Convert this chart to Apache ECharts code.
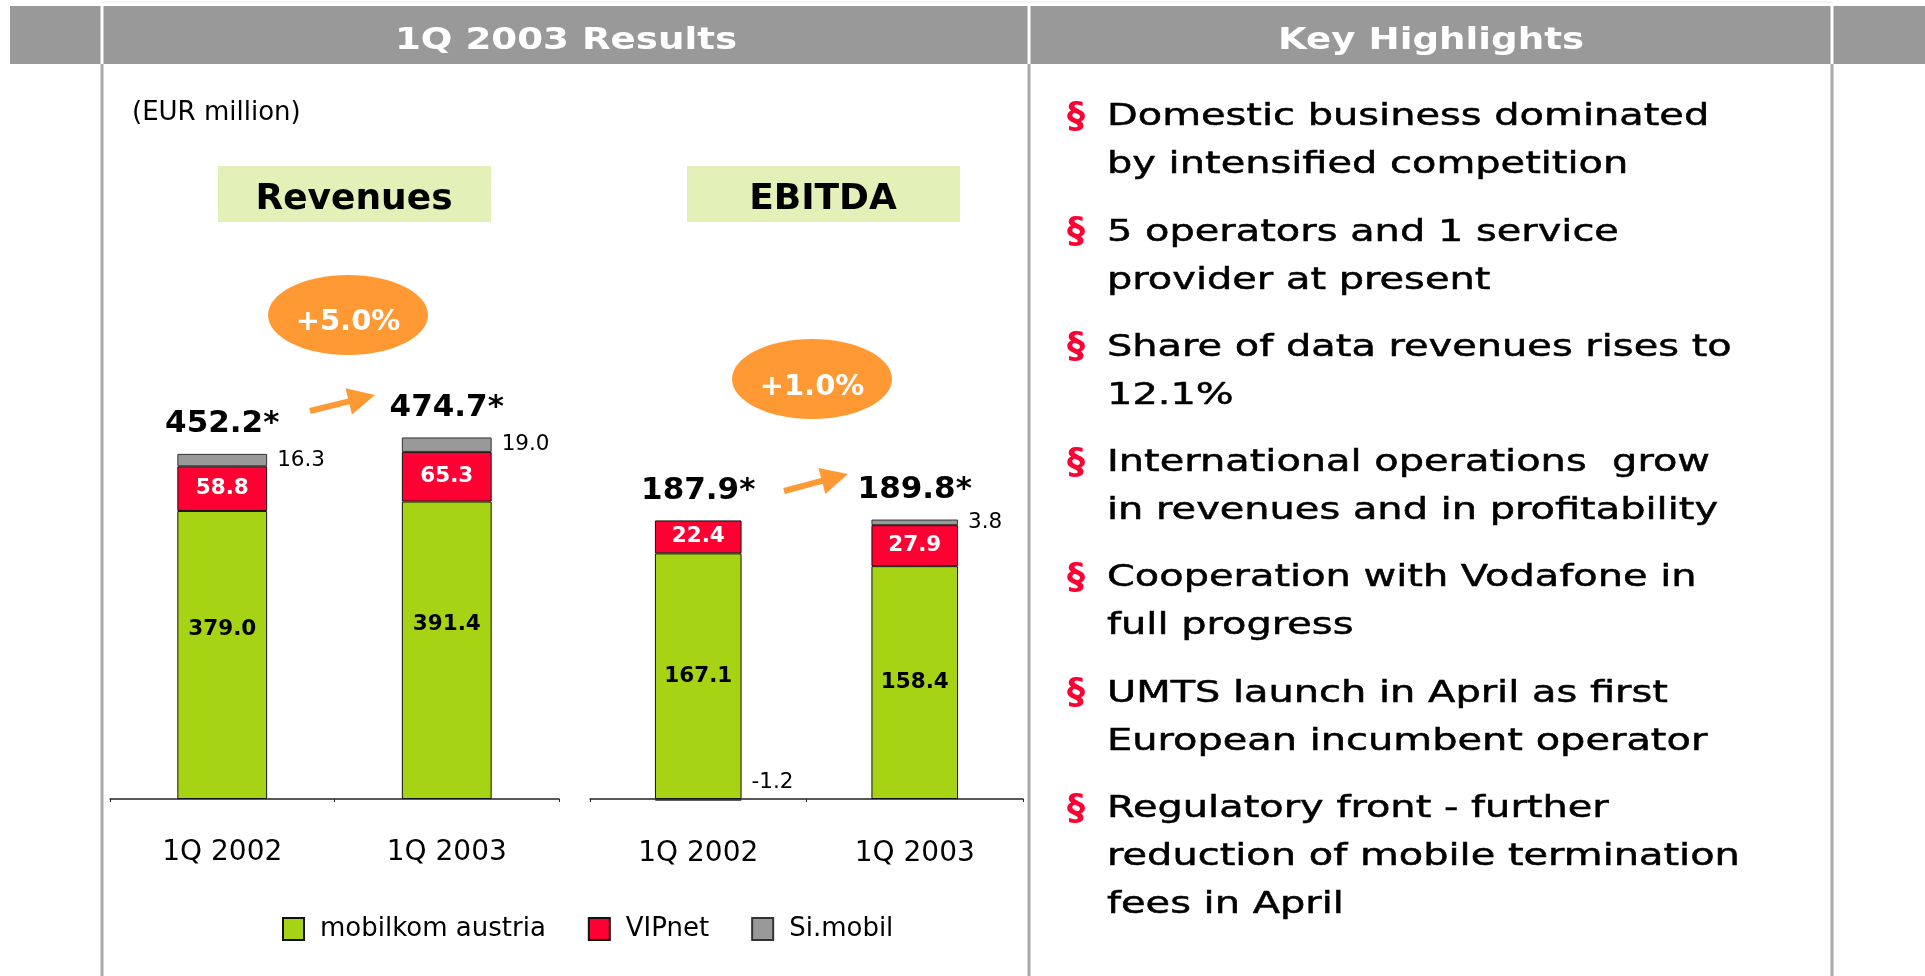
<!DOCTYPE html>
<html>
<head>
<meta charset="utf-8">
<title>1Q 2003 Results</title>
<script src="https://cdn.jsdelivr.net/npm/echarts@6/dist/echarts.min.js"></script>
<style>
  html, body { margin: 0; padding: 0; background: #fff; }
  #chart { width: 1925px; height: 976px; }
</style>
</head>
<body>
<div id="chart"></div>
<script>
  const categories = ['1Q 2002', '1Q 2003'];
  const seriesNames = ['mobilkom austria', 'VIPnet', 'Si.mobil'];

  // Revenues (EUR million)
  const revMobilkom = [379.0, 391.4];
  const revVipnet = [58.8, 65.3];
  const revSimobil = [16.3, 19.0];
  const revTotals = [452.2, 474.7];

  // EBITDA (EUR million)
  const ebitdaMobilkom = [167.1, 158.4];
  const ebitdaVipnet = [22.4, 27.9];
  const ebitdaSimobil = [-1.2, 3.8];
  const ebitdaTotals = [187.9, 189.8];

  const revGrowth = '+5.0%';
  const ebitdaGrowth = '+1.0%';

  const highlights = [
    ['Domestic business dominated', 'by intensified competition'],
    ['5 operators and 1 service', 'provider at present'],
    ['Share of data revenues rises to', '12.1%'],
    ['International operations  grow', 'in revenues and in profitability'],
    ['Cooperation with Vodafone in', 'full progress'],
    ['UMTS launch in April as first', 'European incumbent operator'],
    ['Regulatory front - further', 'reduction of mobile termination', 'fees in April'],
  ];

  const GREEN = '#a6d415';
  const RED = '#ff0033';
  const GREY = '#999999';
  const ORANGE = '#ff9933';
  const FONT = 'DejaVu Sans';

  const chart = echarts.init(document.getElementById('chart'));

  const fmt = (p) => Number(p.value).toFixed(1);

  const makeSeries = (gridIdx, stack, green, red, grey, totals, greenOffset) => [
    {
      name: seriesNames[0],
      type: 'bar',
      stack,
      xAxisIndex: gridIdx,
      yAxisIndex: gridIdx,
      barWidth: '40%',
      data: green,
      itemStyle: { color: GREEN, borderColor: '#111', borderWidth: 1 },
      label: {
        show: true,
        position: 'inside',
        offset: [0, greenOffset],
        color: '#000',
        fontSize: 21.5,
        fontWeight: 'bold',
        formatter: fmt,
      },
    },
    {
      name: seriesNames[1],
      type: 'bar',
      stack,
      xAxisIndex: gridIdx,
      yAxisIndex: gridIdx,
      data: red,
      itemStyle: { color: RED, borderColor: '#111', borderWidth: 1 },
      label: {
        show: true,
        position: 'inside',
        color: '#fff',
        fontSize: 21.5,
        fontWeight: 'bold',
        formatter: fmt,
      },
    },
    {
      name: seriesNames[2],
      type: 'bar',
      stack,
      xAxisIndex: gridIdx,
      yAxisIndex: gridIdx,
      data: grey.map((v) => (v < 0 ? { value: v, label: { offset: [0, -17] } } : v)),
      itemStyle: { color: GREY, borderColor: '#333', borderWidth: 1 },
      label: {
        show: true,
        position: 'right',
        distance: 10,
        color: '#000',
        fontSize: 21.5,
        formatter: fmt,
      },
    },
    {
      // zero-height bar sitting on the positive stack top, carries the total label
      name: 'total',
      type: 'bar',
      stack,
      stackStrategy: 'positive',
      xAxisIndex: gridIdx,
      yAxisIndex: gridIdx,
      data: totals.map(() => 0),
      itemStyle: { color: 'transparent', borderWidth: 0 },
      label: {
        show: true,
        position: 'top',
        distance: 14,
        color: '#000',
        fontSize: 31,
        fontWeight: 'bold',
        formatter: (p) => totals[p.dataIndex].toFixed(1) + '*',
      },
    },
  ];

  // arrow as one polygon: shaft + head
  const arrowPoints = (x1, y1, x2, y2, shaftW, headLen, headW) => {
    const len = Math.hypot(x2 - x1, y2 - y1);
    const ux = (x2 - x1) / len, uy = (y2 - y1) / len;
    const nx = -uy, ny = ux;
    const bx = x2 - ux * headLen, by = y2 - uy * headLen;
    const s = shaftW / 2, h = headW / 2;
    return [
      [x1 + nx * s, y1 + ny * s],
      [bx + nx * s, by + ny * s],
      [bx + nx * h, by + ny * h],
      [x2, y2],
      [bx - nx * h, by - ny * h],
      [bx - nx * s, by - ny * s],
      [x1 - nx * s, y1 - ny * s],
    ];
  };

  const graphics = [];
  // header bar
  graphics.push({ type: 'rect', shape: { x: 10, y: 6, width: 1915, height: 58 }, style: { fill: '#999999' } });
  graphics.push({ type: 'line', shape: { x1: 102, y1: 2, x2: 1832, y2: 2 }, style: { stroke: '#e8e8e8', lineWidth: 1 } });
  [102, 1029, 1832].forEach((x) => {
    graphics.push({ type: 'line', shape: { x1: x, y1: 6, x2: x, y2: 64 }, style: { stroke: '#fff', lineWidth: 3 } });
    graphics.push({ type: 'line', shape: { x1: x, y1: 64, x2: x, y2: 976 }, style: { stroke: '#a8a8a8', lineWidth: 3 } });
  });
  graphics.push({
    type: 'text', x: 566, y: 41, scaleX: 1.24,
    style: { text: '1Q 2003 Results', align: 'center', verticalAlign: 'middle', fontFamily: FONT, fontSize: 30, fontWeight: 'bold', fill: '#fff' },
  });
  graphics.push({
    type: 'text', x: 1431, y: 41, scaleX: 1.24,
    style: { text: 'Key Highlights', align: 'center', verticalAlign: 'middle', fontFamily: FONT, fontSize: 30, fontWeight: 'bold', fill: '#fff' },
  });

  // left panel texts
  graphics.push({
    type: 'text', x: 132, y: 113.5,
    style: { text: '(EUR million)', align: 'left', verticalAlign: 'middle', fontFamily: FONT, fontSize: 26, fill: '#000' },
  });
  graphics.push({ type: 'rect', shape: { x: 218, y: 166, width: 273, height: 56 }, style: { fill: '#e3f0b7' } });
  graphics.push({ type: 'rect', shape: { x: 687, y: 166, width: 273, height: 56 }, style: { fill: '#e3f0b7' } });
  graphics.push({
    type: 'text', x: 354, y: 200,
    style: { text: 'Revenues', align: 'center', verticalAlign: 'middle', fontFamily: FONT, fontSize: 36, fontWeight: 'bold', fill: '#000' },
  });
  graphics.push({
    type: 'text', x: 823, y: 200,
    style: { text: 'EBITDA', align: 'center', verticalAlign: 'middle', fontFamily: FONT, fontSize: 36, fontWeight: 'bold', fill: '#000' },
  });

  // growth bubbles and arrows
  graphics.push({ type: 'ellipse', shape: { cx: 348, cy: 315, rx: 80, ry: 40 }, style: { fill: ORANGE } });
  graphics.push({
    type: 'text', x: 348, y: 322,
    style: { text: revGrowth, align: 'center', verticalAlign: 'middle', fontFamily: FONT, fontSize: 29, fontWeight: 'bold', fill: '#fff' },
  });
  graphics.push({ type: 'ellipse', shape: { cx: 812, cy: 379, rx: 80, ry: 40 }, style: { fill: ORANGE } });
  graphics.push({
    type: 'text', x: 812, y: 387,
    style: { text: ebitdaGrowth, align: 'center', verticalAlign: 'middle', fontFamily: FONT, fontSize: 29, fontWeight: 'bold', fill: '#fff' },
  });
  graphics.push({ type: 'polygon', shape: { points: arrowPoints(310, 411, 375, 395, 6, 27, 27) }, style: { fill: ORANGE } });
  graphics.push({ type: 'polygon', shape: { points: arrowPoints(784, 491, 848, 474, 6, 27, 27) }, style: { fill: ORANGE } });

  // key highlights
  let y = 117.5;
  highlights.forEach((lines) => {
    graphics.push({
      type: 'text', x: 1076, y: y,
      style: { text: '§', align: 'center', verticalAlign: 'middle', fontFamily: FONT, fontSize: 36, fontWeight: 'bold', fill: RED },
    });
    lines.forEach((line, i) => {
      graphics.push({
        type: 'text', x: 1107, y: y + i * 48, scaleX: 1.33,
        style: {
          text: line, align: 'left', verticalAlign: 'middle', fontFamily: FONT, fontSize: 30,
          fill: '#000', stroke: '#000', lineWidth: 0.5,
        },
      });
    });
    y += 2 * 48 + 19.3;
  });

  const xAxisBase = {
    type: 'category',
    data: categories,
    axisLine: { onZero: true, lineStyle: { color: '#222', width: 1.5 } },
    axisTick: { show: true, length: 3, lineStyle: { color: '#222' } },
    axisLabel: { fontSize: 28, color: '#000', fontFamily: FONT },
  };

  const option = {
    animation: false,
    backgroundColor: '#fff',
    textStyle: { fontFamily: FONT },
    legend: {
      data: seriesNames,
      left: 277,
      top: 911,
      itemWidth: 21,
      itemHeight: 22,
      itemGap: 42,
      icon: 'rect',
      textStyle: { fontSize: 26, color: '#000', fontFamily: FONT, padding: [0, 0, 0, 11] },
    },
    grid: [
      { left: 110, width: 449, top: 343, height: 456 },
      { left: 590, width: 433, top: 387.4, height: 441 },
    ],
    xAxis: [
      { ...xAxisBase, gridIndex: 0, axisLabel: { ...xAxisBase.axisLabel, margin: 40 } },
      { ...xAxisBase, gridIndex: 1, axisLabel: { ...xAxisBase.axisLabel, margin: 11 } },
    ],
    yAxis: [
      { type: 'value', gridIndex: 0, min: 0, max: 600, show: false, splitLine: { show: false } },
      { type: 'value', gridIndex: 1, min: -20, max: 280, show: false, splitLine: { show: false } },
    ],
    graphic: graphics,
    series: [
      ...makeSeries(0, 'rev', revMobilkom, revVipnet, revSimobil, revTotals, -26),
      ...makeSeries(1, 'ebitda', ebitdaMobilkom, ebitdaVipnet, ebitdaSimobil, ebitdaTotals, 0),
    ],
  };

  chart.setOption(option);
</script>
</body>
</html>
